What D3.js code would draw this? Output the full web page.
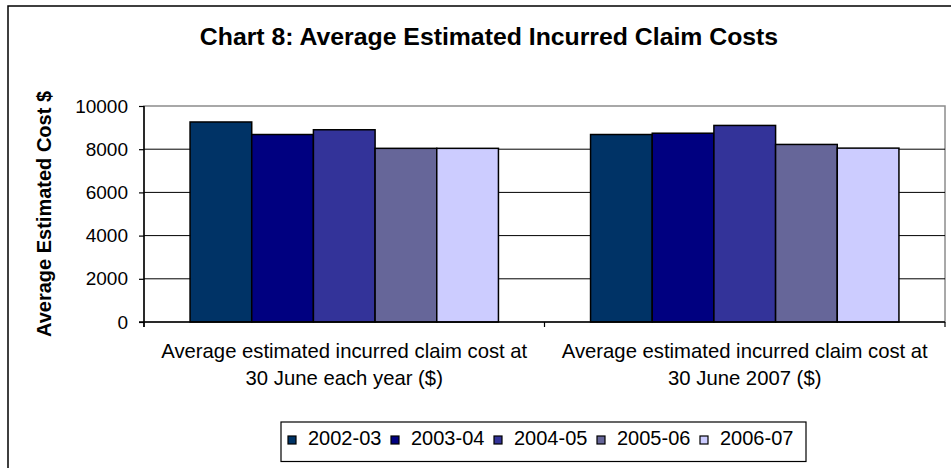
<!DOCTYPE html>
<html>
<head>
<meta charset="utf-8">
<style>
  body { margin: 0; background: #fff; }
  text { font-family: Arial, "Liberation Sans", sans-serif; fill: #000; }
  .tick text { font-size: 19px; }
  .xlab { font-size: 20.3px; text-anchor: middle; }
  .legend text { font-size: 20px; }
</style>
<script src="https://d3js.org/d3.v7.min.js"></script>
</head>
<body>
<svg width="951" height="468"></svg>
<script>
var categories = ["Average estimated incurred claim cost at|30 June each year ($)",
                  "Average estimated incurred claim cost at|30 June 2007 ($)"];
var years = ["2002-03", "2003-04", "2004-05", "2005-06", "2006-07"];
var v0203 = [9260, 8680];
var v0304 = [8680, 8740];
var v0405 = [8900, 9100];
var v0506 = [8040, 8220];
var v0607 = [8040, 8050];
var yTicks = [0, 2000, 4000, 6000, 8000, 10000];
var colors = ["#003366", "#000080", "#333399", "#666699", "#CCCCFF"];

var series = [v0203, v0304, v0405, v0506, v0607];

var svg = d3.select("svg");

// outer chart border (right and bottom fall off the picture)
svg.append("rect")
   .attr("x", 8).attr("y", 6)
   .attr("width", 980).attr("height", 500)
   .attr("fill", "#fff").attr("stroke", "#000").attr("stroke-width", 1.5);

svg.append("text")
   .attr("x", 489).attr("y", 45)
   .attr("text-anchor", "middle")
   .style("font-size", "24.8px").style("font-weight", "bold")
   .text("Chart 8: Average Estimated Incurred Claim Costs");

var pLeft = 144, pRight = 945, pTop = 106, pBottom = 322;

var x0 = d3.scaleBand().domain(categories).range([pLeft, pRight])
           .paddingInner(0.23).paddingOuter(0.115);
var x1 = d3.scaleBand().domain(years).range([0, x0.bandwidth()]);
var y = d3.scaleLinear().domain([0, 10000]).range([pBottom, pTop]);

// plot area border
svg.append("rect")
   .attr("x", pLeft).attr("y", pTop)
   .attr("width", pRight - pLeft).attr("height", pBottom - pTop)
   .attr("fill", "none").attr("stroke", "#8c8c8c").attr("stroke-width", 1.5);

// gridlines
svg.append("g").selectAll("line")
   .data(yTicks.filter(function(d) { return d > 0 && d < 10000; }))
   .enter().append("line")
   .attr("x1", pLeft).attr("x2", pRight)
   .attr("y1", function(d) { return y(d); }).attr("y2", function(d) { return y(d); })
   .attr("stroke", "#000").attr("stroke-width", 1);

// bars
var groups = svg.append("g").selectAll("g")
   .data(categories)
   .enter().append("g")
   .attr("transform", function(d) { return "translate(" + x0(d) + ",0)"; });

groups.selectAll("rect")
   .data(function(d, i) {
       return years.map(function(yr, j) { return { year: yr, value: series[j][i], c: colors[j] }; });
   })
   .enter().append("rect")
   .attr("x", function(d) { return x1(d.year); })
   .attr("y", function(d) { return y(d.value); })
   .attr("width", x1.bandwidth())
   .attr("height", function(d) { return pBottom - y(d.value); })
   .attr("fill", function(d) { return d.c; })
   .attr("stroke", "#000").attr("stroke-width", 1.5);

// y axis
var yAxis = svg.append("g")
   .attr("transform", "translate(" + pLeft + ",0)")
   .call(d3.axisLeft(y).tickValues(yTicks).tickSize(5).tickPadding(11).tickFormat(d3.format("d")));
yAxis.select(".domain").attr("d", "M0," + pTop + "V" + (pBottom + 5)).attr("stroke-width", 1.5);
yAxis.selectAll(".tick line").attr("stroke-width", 1.2);

// x axis
svg.append("line")
   .attr("x1", pLeft - 5).attr("x2", pRight)
   .attr("y1", pBottom).attr("y2", pBottom)
   .attr("stroke", "#000").attr("stroke-width", 1.5);
var bounds = [pLeft, x0(categories[1]) - x0.step() * 0.23 / 2, pRight];
svg.append("g").selectAll("line")
   .data(bounds).enter().append("line")
   .attr("x1", function(d) { return d; }).attr("x2", function(d) { return d; })
   .attr("y1", pBottom).attr("y2", pBottom + 5)
   .attr("stroke", "#000").attr("stroke-width", 1.2);

categories.forEach(function(c) {
    var t = svg.append("text").attr("class", "xlab")
       .attr("x", x0(c) + x0.bandwidth() / 2).attr("y", 358);
    c.split("|").forEach(function(line, i) {
        t.append("tspan").attr("x", x0(c) + x0.bandwidth() / 2)
         .attr("dy", i === 0 ? 0 : 27).text(line);
    });
});

// y axis title
svg.append("text")
   .attr("transform", "translate(51," + ((pTop + pBottom) / 2) + ") rotate(-90)")
   .attr("text-anchor", "middle")
   .style("font-size", "20px").style("font-weight", "bold")
   .text("Average Estimated Cost $");

// legend
var legend = svg.append("g").attr("class", "legend");
legend.append("rect")
   .attr("x", 281).attr("y", 422).attr("width", 525).attr("height", 39.5)
   .attr("fill", "#fff").attr("stroke", "#000").attr("stroke-width", 1.2);
var items = legend.selectAll("g.item")
   .data(years).enter().append("g").attr("class", "item")
   .attr("transform", function(d, i) { return "translate(" + (288 + i * 103) + ",0)"; });
items.append("rect")
   .attr("x", 0).attr("y", 436).attr("width", 8).attr("height", 8)
   .attr("fill", function(d, i) { return colors[i]; })
   .attr("stroke", "#000").attr("stroke-width", 1.2);
items.append("text")
   .attr("x", 20).attr("y", 445)
   .text(function(d) { return d; });
</script>
</body>
</html>
